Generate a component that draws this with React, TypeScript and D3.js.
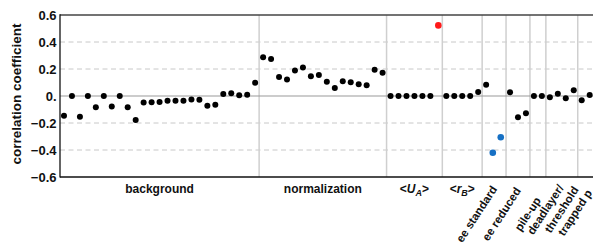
import React, { useEffect, useRef } from 'react';
import * as d3 from 'd3';

// correlation coefficients, one array per group
const background = [
  -0.146, 0, -0.153, 0, -0.084, 0, -0.077, 0, -0.084, -0.178, -0.049, -0.047, -0.045,
  -0.035, -0.035, -0.035, -0.025, -0.027, -0.072, -0.064, 0.015, 0.02, 0.005, 0.01, 0.099,
];
const normalization = [
  0.287, 0.274, 0.141, 0.123, 0.188, 0.212, 0.146, 0.156, 0.106, 0.059, 0.109, 0.101,
  0.087, 0.079, 0.195, 0.173,
];
const meanUA = [0, 0, 0, 0, 0, 0, 0.523];
const meanRB = [0, 0, 0, 0, 0.03];
const eeStandard = [0.084, -0.42, -0.306];
const eeReduced = [0.027, -0.158, -0.128];
const pileUp = [0, 0];
const deadlayer = [-0.01, 0.017, -0.017, 0.042];
const trapped = [-0.032, 0.007];

const groups = [
  { label: 'background', values: background, rotated: false },
  { label: 'normalization', values: normalization, rotated: false },
  { label: 'UA', values: meanUA, rotated: false },
  { label: 'rB', values: meanRB, rotated: false },
  { label: 'ee standard', values: eeStandard, rotated: true },
  { label: 'ee reduced', values: eeReduced, rotated: true },
  { label: 'pile-up', values: pileUp, rotated: true },
  { label: 'deadlayer/|threshold', values: deadlayer, rotated: true },
  { label: 'trapped p', values: trapped, rotated: true },
];

const yTicks = [-0.6, -0.4, -0.2, 0, 0.2, 0.4, 0.6];
const yTickLabels = ['\u22120.6', '\u22120.4', '\u22120.2', '0.', '0.2', '0.4', '0.6'];

// highlighted points: group index -> point index -> colour
const highlight: Record<string, string> = {
  '2-6': '#ff1a1a',
  '4-1': '#1670c4',
  '4-2': '#1670c4',
};

const W = 593, H = 245;
const FONT = '"Liberation Sans", Arial, sans-serif';

export default function App() {
  const ref = useRef<SVGSVGElement>(null);

  useEffect(() => {
    const svg = d3.select(ref.current);
    svg.selectAll('*').remove();

    // flatten the groups into one running index
    const points: { i: number; v: number; g: number; k: number }[] = [];
    const bounds: { start: number; end: number }[] = [];
    let n = 0;
    groups.forEach((grp, g) => {
      const start = n;
      grp.values.forEach((v, k) => points.push({ i: n++, v, g, k }));
      bounds.push({ start, end: n - 1 });
    });

    const left = 60, top = 15, bottom = 177;
    const step = 7.965;
    const x = d3.scaleLinear().domain([-0.5, n - 0.5]).range([left, left + n * step]);
    const y = d3.scaleLinear().domain([-0.6, 0.6]).range([bottom, top]);
    const right = x(n - 0.5);

    // dashed grid
    svg.append('g')
      .selectAll('line')
      .data(yTicks.filter(t => t !== 0 && Math.abs(t) < 0.6))
      .join('line')
      .attr('x1', left).attr('x2', right)
      .attr('y1', d => y(d)).attr('y2', d => y(d))
      .attr('stroke', '#c8c8c8').attr('stroke-width', 1)
      .attr('stroke-dasharray', '5,3.5');

    // group separators
    svg.append('g')
      .selectAll('line')
      .data(bounds.slice(1))
      .join('line')
      .attr('x1', d => x(d.start - 0.5)).attr('x2', d => x(d.start - 0.5))
      .attr('y1', top).attr('y2', bottom)
      .attr('stroke', '#cfcfcf').attr('stroke-width', 1.5);

    // zero line
    svg.append('line')
      .attr('x1', left).attr('x2', right)
      .attr('y1', y(0)).attr('y2', y(0))
      .attr('stroke', '#9a9a9a').attr('stroke-width', 1.2);

    // frame
    svg.append('line').attr('x1', left).attr('x2', right).attr('y1', top).attr('y2', top)
      .attr('stroke', '#444').attr('stroke-width', 1.4);
    svg.append('line').attr('x1', left).attr('x2', right).attr('y1', bottom).attr('y2', bottom)
      .attr('stroke', '#111').attr('stroke-width', 1.3);
    svg.append('line').attr('x1', left).attr('x2', left).attr('y1', top - 0.7).attr('y2', bottom + 0.6)
      .attr('stroke', '#111').attr('stroke-width', 1.3);

    // y tick labels
    svg.append('g')
      .selectAll('text')
      .data(yTicks)
      .join('text')
      .attr('x', left - 3.5)
      .attr('y', d => y(d))
      .attr('dy', '0.36em')
      .attr('text-anchor', 'end')
      .attr('font-family', FONT).attr('font-weight', 'bold').attr('font-size', 13)
      .attr('fill', '#111')
      .text((d, i) => yTickLabels[i]);

    svg.append('text')
      .attr('transform', `translate(21,${(top + bottom) / 2 - 2}) rotate(-90)`)
      .attr('text-anchor', 'middle')
      .attr('font-family', FONT).attr('font-weight', 'bold').attr('font-size', 13.5)
      .attr('fill', '#111')
      .text('correlation coefficient');

    // category labels
    const angle = 57;
    const rad = (angle * Math.PI) / 180;
    const labelY = 193;
    const lastGroup = groups.length - 1;
    groups.forEach((grp, g) => {
      const cx = x((bounds[g].start + bounds[g].end) / 2);
      if (!grp.rotated) {
        const t = svg.append('text')
          .attr('x', cx).attr('y', labelY)
          .attr('text-anchor', 'middle')
          .attr('font-family', FONT).attr('font-weight', 'bold').attr('font-size', 12)
          .attr('fill', '#111');
        if (grp.label === 'UA' || grp.label === 'rB') {
          t.append('tspan').text('<');
          t.append('tspan').attr('font-style', 'italic').text(grp.label[0]);
          t.append('tspan').attr('font-style', 'italic').attr('font-size', 9).attr('dy', 3).text(grp.label[1]);
          t.append('tspan').attr('dy', -3).text('>');
        } else {
          t.text(grp.label);
        }
        return;
      }
      const lines = grp.label.split('|');
      lines.forEach((line, li) => {
        const t = svg.append('text')
          .attr('text-anchor', 'middle')
          .attr('font-family', FONT).attr('font-weight', 'bold').attr('font-size', 11.5)
          .attr('fill', '#111')
          .text(line);
        const len = (t.node() as SVGTextElement).getComputedTextLength();
        // multi-line labels: lines stack to the right at the same height
        const shiftX = lines.length > 1 ? li * 15 - 1 : 0;
        const shiftY = lines.length > 1 ? -4.5 : 0;
        const nudge = g === lastGroup ? 3.5 : 0;
        const mx = cx - (len / 2) * Math.cos(rad) + shiftX + nudge;
        const my = 214 + shiftY - nudge * 0.4;
        t.attr('transform', `translate(${mx},${my}) rotate(${-angle})`).attr('dy', '0.35em');
      });
    });

    // points
    svg.append('g')
      .selectAll('circle')
      .data(points)
      .join('circle')
      .attr('cx', d => x(d.i) - (highlight[`${d.g}-${d.k}`] === '#1670c4' ? 1.3 : 0))
      .attr('cy', d => y(d.v))
      .attr('r', d => (highlight[`${d.g}-${d.k}`] ? 3.3 : 3))
      .attr('fill', d => highlight[`${d.g}-${d.k}`] || '#000');
  }, []);

  return (
    <svg
      ref={ref}
      width={W}
      height={H}
      style={{ position: 'absolute', left: 0, top: 0, background: '#fff' }}
    />
  );
}
